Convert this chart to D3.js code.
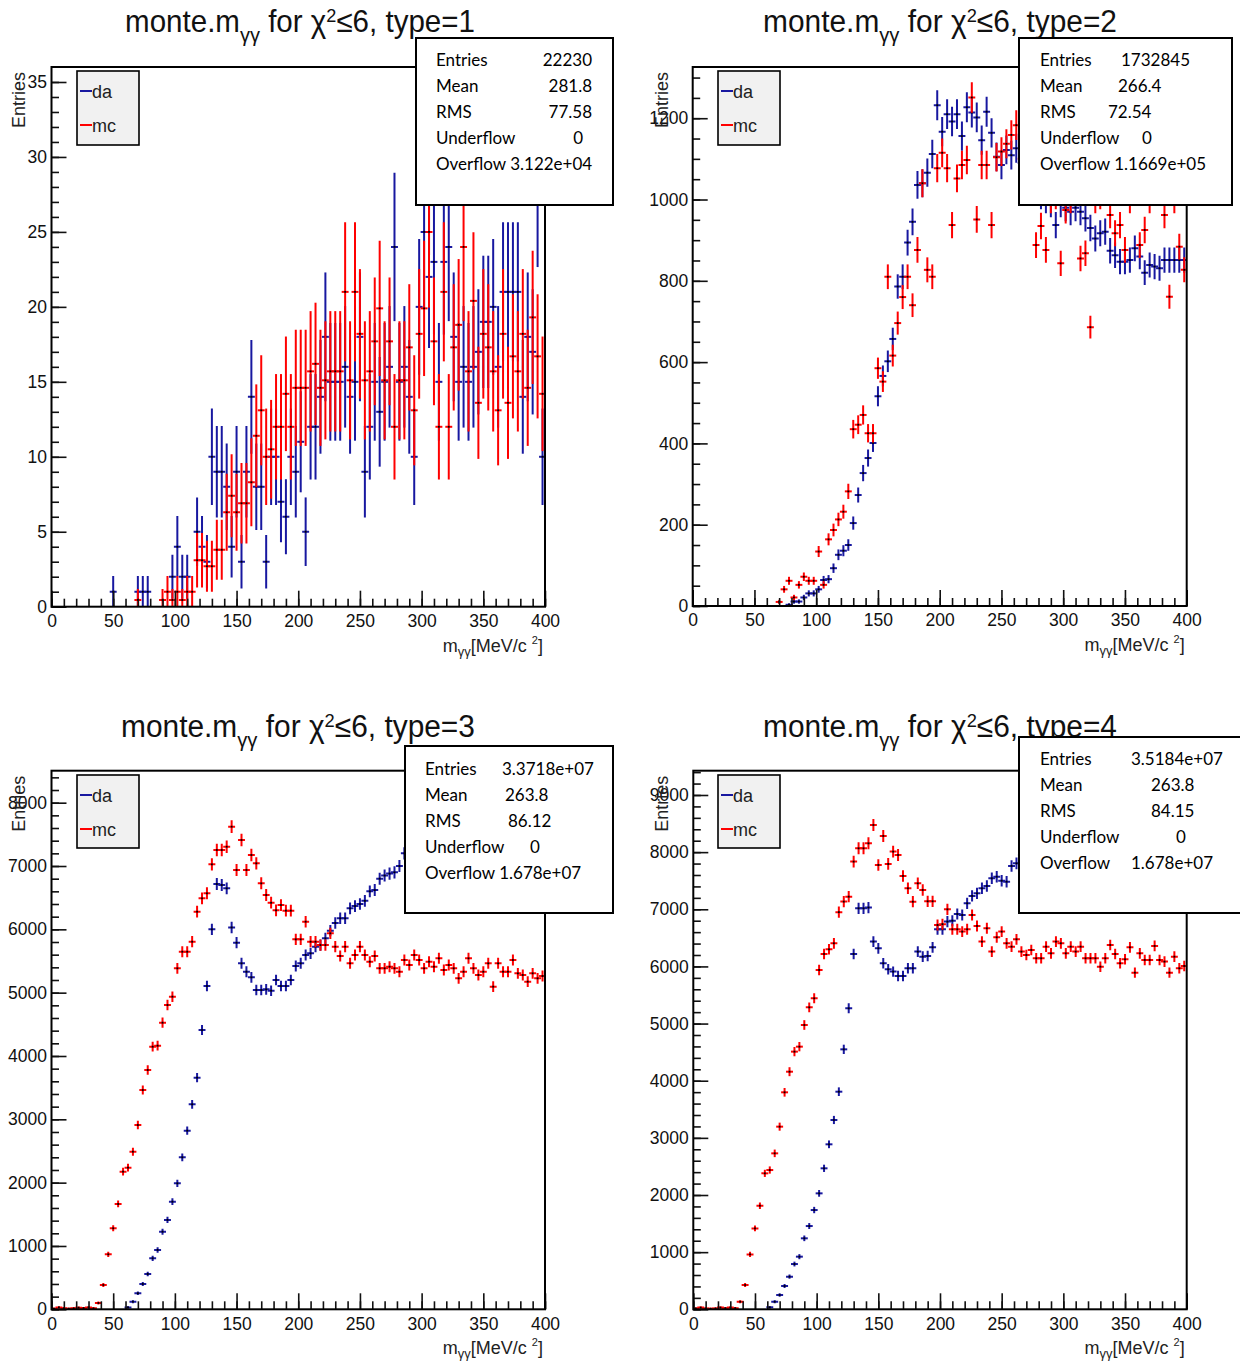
<!DOCTYPE html>
<html><head><meta charset="utf-8">
<script src="https://cdn.jsdelivr.net/npm/d3@7"></script>
<style>body{margin:0;background:#fff}svg{display:block}</style>
</head><body>
<script>
// ---------------- DATA ----------------
const xTickValues = [0, 50, 100, 150, 200, 250, 300, 350, 400];
const binEdges = d3.range(0, 401, 4);          // 100 bins of 4 MeV
const seriesNames = ["da", "mc"];
const titleTypes = ["type=1", "type=2", "type=3", "type=4"];
const yMaxima = [36, 1326, 8505, 9425];
const yMajorSteps = [5, 200, 1000, 1000];
const yMinorSteps = [1, 50, 200, 200];

const type1Da = [0,0,0,0,0,0,0,0,0,0, 0,0,1,0,0,0,0,1,1,1, 0,0,0,0,2,4,2,2,0,5,
  4,3,10,9,9,8,4,9,3,9, 14,8,8,3,10,10,7,6,10,9, 11,5,12,12,14,18,15,15,15,16,
  14,15,18,9,12,15,13,15,16,24, 15,16,14,10,20,25,22,23,15,23, 24,18,15,16,15,16,17,19,19,20,
  16,21,21,21,21,14,18,17,28,10];
const type1Mc = [0,0,0,0,0,0,0,0,0,0, 0,0,0,0,0,0,0,0.45,0,0, 0,0,0.45,1,0.45,1,0.45,1,1,3.1,
  3.1,2.7,2.7,3.8,3.8,6.3,7.4,6.3,6.9,6.9, 8.3,11.4,13.1,10,10.5,12,12,14.2,12,14.6,
  14.6,14.6,15.7,16.2,14.6,15.1,15.7,15.7,15.7,21, 15.1,21,18.2,15.1,15.7,17.7,19.9,15.1,17.7,12,
  15.1,15.1,17.3,13.1,18.2,19.9,25,17.7,12,21, 12,17.3,18.8,24,15.7,20.4,13.6,18.2,17.3,15.7,
  13.1,18.2,13.6,16.7,15.7,18.2,14.6,19.3,16.7,14.2];

const type2Da = [0,0,0,0,0,0,0,0,0,0, 0,0,0,0,0,0,0,0,0,3,
  11,11,21,31,31,41,64,66,93,126, 136,150,204,273,327,364,401,516,566,602,
  657,786,810,894,945,1036,1040,1066,1112,1232, 1167,1210,1192,1210,1156,1227,1214,1202,1146,1216,
  1164,1105,1085,1122,1109,1126,1090,1070,1050,1030, 1010,1000,990,937,990,980,970,980,970,954,
  930,904,917,921,874,863,847,847,851,880, 860,820,839,835,831,851,851,851,851,851];
const type2Mc = [0,0,0,0,0,0,0,0,0,0, 0,0,0,0,0,0,0,10,41,62,
  21,52,72,62,62,134,52,164,187,213, 232,282,435,446,470,425,425,585,552,810,
  616,696,760,810,740,876,1040,827,810,1077, 1115,1077,937,1052,1085,1097,1251,951,1085,1085,
  937,1104,1118,1137,1159,1183,1100,1060,1020,888, 935,876,1000,1010,843,974,1000,1020,855,868,
  686,1000,1010,1040,962,917,937,876,1000,1020, 888,925,1000,1020,1040,962,761,1000,884,827];

const type3Da = [0,0,0,0,0,0,0,0,0,0, 0,0,0,0,0,30,121,253,400,558,
  805,937,1226,1411,1700,1989,2400,2821,3237,3658, 4410,5105,6000,6716,6700,6647,6030,5789,5463,5331,
  5242,5042,5042,5052,5031,5200,5105,5105,5200,5421, 5463,5595,5621,5726,5752,5858,5979,6100,6174,6174,
  6331,6368,6400,6450,6600,6620,6800,6850,6880,6900, 7000,7200,7230,7310,7290,7420,7380,7470,7520,7480,
  7590,7560,7640,7610,7690,7650,7720,7700,7760,7740, 7800,7770,7830,7810,7860,7840,7880,7870,7900,7890];
const type3Mc = [10,30,15,10,15,25,20,30,15,100, 384,868,1279,1663,2174,2237,2489,2910,3463,3779,
  4147,4163,4526,4805,4937,5384,5647,5647,5805,6279, 6490,6569,7026,7253,7253,7305,7621,6937,7411,6937,
  7174,7042,6726,6542,6420,6300,6384,6295,6295,5842, 5842,6121,5805,5805,5752,5752,5937,5726,5579,5726,
  5463,5595,5726,5595,5489,5579,5384,5384,5410,5384, 5331,5516,5437,5595,5516,5384,5489,5410,5542,5358,
  5437,5384,5226,5331,5542,5384,5279,5331,5463,5095, 5463,5331,5331,5516,5305,5279,5174,5305,5226,5263];

const type4Da = [0,0,0,0,0,0,0,0,0,0, 0,0,0,0,0,34,133,250,407,571,
  792,921,1242,1457,1737,2029,2467,2887,3313,3808, 4549,5267,6218,7017,7017,7030,6434,6317,6055,5950,
  5909,5833,5833,5967,5967,6259,6171,6183,6335,6650, 6650,6784,6801,6918,6900,7105,7233,7279,7367,7408,
  7542,7571,7500,7483,7758,7804,7950,8010,8080,8050, 8150,8120,8230,8200,8290,8310,8270,8380,8350,8400,
  8460,8430,8500,8480,8550,8520,8580,8600,8570,8620, 8650,8610,8680,8660,8700,8690,8720,8700,8750,8730];
const type4Mc = [15,30,15,10,15,30,20,30,20,133, 425,961,1416,1813,2379,2437,2729,3196,3797,4158,
  4509,4596,4975,5284,5442,5938,6218,6300,6405,6950, 7134,7221,7834,8067,8067,8154,8475,7775,8283,7793,
  8009,7950,7583,7367,7133,7454,7338,7140,7140,6725, 6740,6999,6650,6650,6609,6650,6900,6708,6434,6667,
  6259,6510,6609,6405,6346,6475,6259,6200,6288,6142, 6142,6346,6229,6434,6405,6229,6346,6259,6346,6142,
  6142,6142,5996,6142,6375,6218,6055,6125,6335,5891, 6229,6113,6113,6358,6113,6084,5891,6171,5967,6008];

const statLabels = ["Entries", "Mean", "RMS", "Underflow", "Overflow"];
const stats1 = ["22230", "281.8", "77.58", "0", "3.122e+04"];
const stats2 = ["1732845", "266.4", "72.54", "0", "1.1669e+05"];
const stats3 = ["3.3718e+07", "263.8", "86.12", "0", "1.678e+07"];
const stats4 = ["3.5184e+07", "263.8", "84.15", "0", "1.678e+07"];

// ---------------- LAYOUT ----------------
const COLORS = { da: "#1818a0", mc: "#ff0000" };
const ROOTFONT = "'Liberation Sans', Arial, Helvetica, sans-serif";
const STATFONT = "Lato, 'Open Sans', sans-serif";

const panels = [
  { da: type1Da, mc: type1Mc, type: titleTypes[0], stats: stats1, yMax: yMaxima[0], yMajor: yMajorSteps[0], yMinor: yMinorSteps[0],
    frame: {l: 51.5, r: 545, t: 67, b: 606.7}, titleX: 300, titleY: 32, titleW: 350,
    box: {x: 416, y: 38, w: 197, h: 167}, legend: {x: 77, y: 71, w: 62, h: 74},
    labelX: 436, rowY: 66, valPos: [[592, "end"], [592, "end"], [592, "end"], [583, "end"]], ovSplit: null, yTitleX: 24.5 },
  { da: type2Da, mc: type2Mc, type: titleTypes[1], stats: stats2, yMax: yMaxima[1], yMajor: yMajorSteps[1], yMinor: yMinorSteps[1],
    frame: {l: 692.7, r: 1186.7, t: 67, b: 606}, titleX: 940, titleY: 32, titleW: 354,
    box: {x: 1019, y: 38, w: 213, h: 167}, legend: {x: 718, y: 71, w: 62, h: 74},
    labelX: 1040, rowY: 66, valPos: [[1121, "start"], [1118, "start"], [1108, "start"], [1142, "start"]], ovSplit: null, yTitleX: 667.5 },
  { da: type3Da, mc: type3Mc, type: titleTypes[2], stats: stats3, yMax: yMaxima[2], yMajor: yMajorSteps[2], yMinor: yMinorSteps[2],
    frame: {l: 51.5, r: 545, t: 770.7, b: 1309.3}, titleX: 298, titleY: 737, titleW: 354,
    box: {x: 405, y: 746, w: 208, h: 167}, legend: {x: 77, y: 775, w: 62, h: 73},
    labelX: 425, rowY: 775, valPos: [[502, "start"], [505, "start"], [508, "start"], [530, "start"]], ovSplit: null, yTitleX: 24.5 },
  { da: type4Da, mc: type4Mc, type: titleTypes[3], stats: stats4, yMax: yMaxima[3], yMajor: yMajorSteps[3], yMinor: yMinorSteps[3],
    frame: {l: 693.3, r: 1186.7, t: 770.7, b: 1309.3}, titleX: 940, titleY: 737, titleW: 354,
    box: {x: 1019, y: 737, w: 240, h: 176}, legend: {x: 718, y: 775, w: 62, h: 73},
    labelX: 1040, rowY: 765, valPos: [[1131, "start"], [1151, "start"], [1151, "start"], [1176, "start"]], ovSplit: 1131, yTitleX: 667.5 }
];

const svg = d3.select("body").append("svg").attr("width", 1240).attr("height", 1361);

panels.forEach((p, pi) => {
  const f = p.frame;
  const g = svg.append("g");
  const x = d3.scaleLinear().domain([0, 400]).range([f.l, f.r]);
  const y = d3.scaleLinear().domain([0, p.yMax]).range([f.b, f.t]);

  // Title (condensed Helvetica look)
  const t = g.append("text").attr("x", p.titleX).attr("y", p.titleY)
    .attr("text-anchor", "middle").attr("font-family", ROOTFONT).attr("font-size", 31).attr("fill", "#111");
  t.append("tspan").text("monte.m");
  t.append("tspan").attr("dy", 10).attr("font-size", 21).text("γγ");
  t.append("tspan").attr("dy", -10).text(" for χ");
  t.append("tspan").attr("dy", -10).attr("font-size", 19).text("2");
  t.append("tspan").attr("dy", 10).text("≤6, " + p.type);
  const tw = t.node().getBBox().width;
  const s = p.titleW / tw;
  t.attr("transform", `translate(${p.titleX},0) scale(${s},1) translate(${-p.titleX},0)`);

  // clip
  const cid = "clip" + pi;
  svg.append("clipPath").attr("id", cid).append("rect")
    .attr("x", f.l).attr("y", f.t).attr("width", f.r - f.l).attr("height", f.b - f.t);

  // data
  const dataG = g.append("g").attr("clip-path", `url(#${cid})`);
  seriesNames.forEach(name => {
    const pts = p[name].map((v, i) => ({v, lo: binEdges[i], hi: binEdges[i + 1], c: (binEdges[i] + binEdges[i + 1]) / 2, e: Math.sqrt(v)}))
      .filter(d => d.v > 0);
    const sg = dataG.append("g");
    sg.selectAll("line.ev").data(pts).join("line").attr("class", "ev")
      .attr("x1", d => x(d.c)).attr("x2", d => x(d.c))
      .attr("y1", d => y(Math.max(0, d.v - d.e)) + 0.8).attr("y2", d => y(d.v + d.e) - 0.8)
      .attr("stroke", COLORS[name]).attr("stroke-width", 2);
    sg.selectAll("line.eh").data(pts).join("line").attr("class", "eh")
      .attr("x1", d => x(d.lo)).attr("x2", d => x(d.hi))
      .attr("y1", d => y(d.v)).attr("y2", d => y(d.v))
      .attr("stroke", COLORS[name]).attr("stroke-width", 2).attr("stroke-linecap", "square");
    sg.selectAll("rect.mk").data(pts).join("rect").attr("class", "mk")
      .attr("x", d => x(d.c) - 0.9).attr("y", d => y(d.v) - 0.9).attr("width", 1.8).attr("height", 1.8)
      .attr("fill", "#000");
  });

  // axes
  const styleAxis = a => {
    a.select(".domain").remove();
    a.attr("font-family", ROOTFONT).attr("font-size", 17.5).attr("color", "#111");
    a.selectAll(".tick line").attr("stroke-width", 1.6);
  };
  g.append("g").attr("transform", `translate(0,${f.b})`)
    .call(d3.axisBottom(x).tickValues(d3.range(0, 401, 10)).tickSize(-8).tickFormat("")).call(styleAxis);
  g.append("g").attr("transform", `translate(0,${f.b})`)
    .call(d3.axisBottom(x).tickValues(xTickValues).tickSize(-16).tickPadding(8).tickFormat(d3.format("d"))).call(styleAxis);
  g.append("g").attr("transform", `translate(${f.l},0)`)
    .call(d3.axisLeft(y).tickValues(d3.range(0, p.yMax, p.yMinor)).tickSize(-7.5).tickFormat("")).call(styleAxis);
  g.append("g").attr("transform", `translate(${f.l},0)`)
    .call(d3.axisLeft(y).tickValues(d3.range(0, p.yMax, p.yMajor)).tickSize(-15).tickPadding(4.5).tickFormat(d3.format("d"))).call(styleAxis);

  // frame
  g.append("rect").attr("x", f.l).attr("y", f.t).attr("width", f.r - f.l).attr("height", f.b - f.t)
    .attr("fill", "none").attr("stroke", "#000").attr("stroke-width", 2);

  // axis titles
  const xt = g.append("text").attr("x", f.r - 2).attr("y", f.b + 45).attr("text-anchor", "end")
    .attr("font-family", ROOTFONT).attr("font-size", 18).attr("fill", "#222");
  xt.append("tspan").text("m");
  xt.append("tspan").attr("dy", 4).attr("font-size", 13).text("γγ");
  xt.append("tspan").attr("dy", -4).text("[MeV/c ");
  xt.append("tspan").attr("dy", -8).attr("font-size", 11).text("2");
  xt.append("tspan").attr("dy", 8).text("]");

  g.append("text").attr("transform", `translate(${p.yTitleX},${f.t + 5}) rotate(-90)`)
    .attr("text-anchor", "end").attr("font-family", ROOTFONT).attr("font-size", 18).attr("fill", "#222")
    .text("Entries");

  // legend
  const L = p.legend;
  const lg = g.append("g");
  lg.append("rect").attr("x", L.x).attr("y", L.y).attr("width", L.w).attr("height", L.h)
    .attr("fill", "#f1f1f1").attr("stroke", "#000").attr("stroke-width", 1.6);
  seriesNames.forEach((name, i) => {
    const ly = L.y + 20 + i * 34;
    lg.append("line").attr("x1", L.x + 3).attr("x2", L.x + 15).attr("y1", ly).attr("y2", ly)
      .attr("stroke", COLORS[name]).attr("stroke-width", 2);
    lg.append("text").attr("x", L.x + 15).attr("y", ly + 7).attr("font-family", ROOTFONT)
      .attr("font-size", 18).attr("fill", "#222").text(name);
  });

  // stats box
  const B = p.box;
  const sb = g.append("g");
  sb.append("rect").attr("x", B.x).attr("y", B.y).attr("width", B.w).attr("height", B.h)
    .attr("fill", "#fff").attr("stroke", "#000").attr("stroke-width", 2);
  const st = sb.append("g").attr("font-family", STATFONT).attr("font-size", 17).attr("fill", "#000");
  statLabels.slice(0, 4).forEach((lab, i) => {
    const yy = p.rowY + i * 26;
    st.append("text").attr("x", p.labelX).attr("y", yy).text(lab);
    st.append("text").attr("x", p.valPos[i][0]).attr("y", yy).attr("text-anchor", p.valPos[i][1]).text(p.stats[i]);
  });
  const oy = p.rowY + 4 * 26;
  if (p.ovSplit) {
    st.append("text").attr("x", p.labelX).attr("y", oy).text(statLabels[4]);
    st.append("text").attr("x", p.ovSplit).attr("y", oy).text(p.stats[4]);
  } else {
    st.append("text").attr("x", p.labelX).attr("y", oy).text(statLabels[4] + " " + p.stats[4]);
  }
});
</script>
</body></html>
